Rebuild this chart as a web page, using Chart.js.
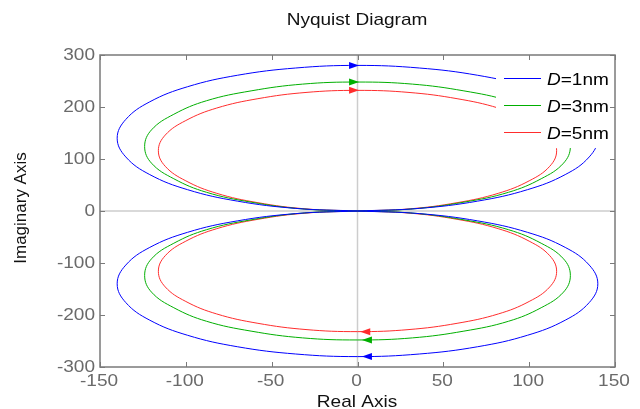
<!DOCTYPE html>
<html><head><meta charset="utf-8">
<script src="https://cdn.jsdelivr.net/npm/chart.js@4/dist/chart.umd.min.js"></script>
<style>html,body{margin:0;padding:0;background:#fff}canvas{display:block}</style>
</head><body>
<canvas id="c" width="640" height="409"></canvas>
<script>
// ---- data ----
const chartTitle = 'Nyquist Diagram';
const xTitle = 'Real Axis';
const yTitle = 'Imaginary Axis';
const seriesNames = ['1nm', '3nm', '5nm'];
const seriesColors = ['rgb(0,0,255)', 'rgb(0,175,0)', 'rgb(255,45,45)'];

const blueX = [0, 36, 70, 99, 121, 135, 140, 135, 121, 99, 70, 36, 0, -36, -70, -99, -121, -135, -140, -135, -121, -99, -70, -36, 0,
               36, 70, 99, 121, 135, 140, 135, 121, 99, 70, 36, 0, -36, -70, -99, -121, -135, -140, -135, -121, -99, -70, -36, 0];
const blueY = [0, 5, 19, 41, 70, 104, 140, 176, 210, 239, 261, 275, 280, 275, 261, 239, 210, 176, 140, 104, 70, 41, 19, 5, 0,
               -5, -19, -41, -70, -104, -140, -176, -210, -239, -261, -275, -280, -275, -261, -239, -210, -176, -140, -104, -70, -41, -19, -5, 0];
const greenX = [0, 32, 62, 88, 107, 120, 124, 120, 107, 88, 62, 32, 0, -32, -62, -88, -107, -120, -124, -120, -107, -88, -62, -32, 0,
                32, 62, 88, 107, 120, 124, 120, 107, 88, 62, 32, 0, -32, -62, -88, -107, -120, -124, -120, -107, -88, -62, -32, 0];
const greenY = [0, 4, 17, 36, 62, 92, 124, 156, 186, 212, 231, 244, 248, 244, 231, 212, 186, 156, 124, 92, 62, 36, 17, 4, 0,
                -4, -17, -36, -62, -92, -124, -156, -186, -212, -231, -244, -248, -244, -231, -212, -186, -156, -124, -92, -62, -36, -17, -4, 0];
const redX = [0, 30, 58, 82, 100, 112, 116, 112, 100, 82, 58, 30, 0, -30, -58, -82, -100, -112, -116, -112, -100, -82, -58, -30, 0,
              30, 58, 82, 100, 112, 116, 112, 100, 82, 58, 30, 0, -30, -58, -82, -100, -112, -116, -112, -100, -82, -58, -30, 0];
const redY = [0, 4, 16, 34, 58, 86, 116, 146, 174, 198, 216, 228, 232, 228, 216, 198, 174, 146, 116, 86, 58, 34, 16, 4, 0,
              -4, -16, -34, -58, -86, -116, -146, -174, -198, -216, -228, -232, -228, -216, -198, -174, -146, -116, -86, -58, -34, -16, -4, 0];

// direction arrows: upper ones point right, lower ones point left
const arrowTopX = [-2, -2, -2];
const arrowTopY = [280, 248, 232];
const arrowBottomX = [5.5, 5.5, 4.5];
const arrowBottomY = [-280, -248, -232];

const xTicks = [-150, -100, -50, 0, 50, 100, 150];
const yTicks = [300, 200, 100, 0, -100, -200, -300];

// ---- build ----
const FONT = '"Liberation Sans", Arial, Helvetica, sans-serif';
const SX = 1.12;
const curves = [[blueX, blueY], [greenX, greenY], [redX, redY]];
const datasets = curves.map((c, i) => ({
  label: seriesNames[i],
  data: c[0].map((x, k) => ({x: x, y: c[1][k]})),
  showLine: true, borderColor: seriesColors[i], borderWidth: 1,
  pointRadius: 0, tension: 0.4, fill: false
}));
seriesNames.forEach((n, i) => {
  datasets.push({
    label: 'arrows' + i, isArrow: true, arrowColor: seriesColors[i],
    data: [{x: arrowTopX[i], y: arrowTopY[i], dir: 1}, {x: arrowBottomX[i], y: arrowBottomY[i], dir: -1}],
    showLine: false, pointRadius: 0, borderWidth: 0
  });
});

function sText(ctx, t, x, y, align) {
  ctx.save(); ctx.translate(x, y); ctx.scale(SX, 1);
  ctx.textAlign = align; ctx.fillText(t, 0, 0); ctx.restore();
}

const deco = {
  id: 'deco',
  beforeDatasetsDraw(chart) {
    const {ctx, chartArea: a, scales: {x, y}} = chart;
    ctx.save();
    ctx.strokeStyle = '#cdcdcd'; ctx.lineWidth = 1.5;
    ctx.beginPath();
    const x0 = x.getPixelForValue(0), y0 = y.getPixelForValue(0);
    ctx.moveTo(x0, a.top); ctx.lineTo(x0, a.bottom);
    ctx.moveTo(a.left, y0); ctx.lineTo(a.right, y0);
    ctx.stroke();
    ctx.restore();
  },
  afterDatasetsDraw(chart) {
    const {ctx, chartArea: a, scales: {x, y}} = chart;
    ctx.save();
    // arrows
    chart.data.datasets.forEach((ds, di) => {
      if (!ds.isArrow) return;
      const meta = chart.getDatasetMeta(di);
      meta.data.forEach((pt, k) => {
        const d = ds.data[k].dir;
        ctx.fillStyle = ds.arrowColor;
        ctx.beginPath();
        ctx.moveTo(pt.x + d * 5, pt.y);
        ctx.lineTo(pt.x - d * 5, pt.y - 3.5);
        ctx.lineTo(pt.x - d * 5, pt.y + 3.5);
        ctx.closePath(); ctx.fill();
      });
    });
    // legend box
    ctx.fillStyle = '#ffffff';
    ctx.fillRect(496, 57, 118, 91);
    const rowsY = [78, 105, 132];
    seriesNames.forEach((n, i) => {
      ctx.strokeStyle = seriesColors[i]; ctx.lineWidth = 1;
      ctx.beginPath(); ctx.moveTo(504, rowsY[i] + 0.5); ctx.lineTo(541, rowsY[i] + 0.5); ctx.stroke();
      ctx.fillStyle = '#000';
      ctx.font = 'italic 17px ' + FONT;
      const wD = ctx.measureText('D').width * SX;
      sText(ctx, 'D', 547, rowsY[i] + 7, 'left');
      ctx.font = '17px ' + FONT;
      sText(ctx, '=' + n, 547 + wD, rowsY[i] + 7, 'left');
    });
    // frame
    ctx.strokeStyle = '#7a7a7a'; ctx.lineWidth = 1.5;
    ctx.strokeRect(a.left, a.top, a.right - a.left, a.bottom - a.top);
    // ticks inward
    ctx.lineWidth = 1;
    ctx.beginPath();
    xTicks.forEach(v => {
      const px = Math.round(x.getPixelForValue(v)) + 0.5;
      ctx.moveTo(px, a.bottom); ctx.lineTo(px, a.bottom - 5);
      ctx.moveTo(px, a.top); ctx.lineTo(px, a.top + 5);
    });
    yTicks.forEach(v => {
      const py = Math.round(y.getPixelForValue(v)) + 0.5;
      ctx.moveTo(a.left, py); ctx.lineTo(a.left + 5, py);
      ctx.moveTo(a.right, py); ctx.lineTo(a.right - 5, py);
    });
    ctx.stroke();
    // tick labels
    ctx.fillStyle = '#6a6a6a';
    ctx.font = '17px ' + FONT;
    ctx.textBaseline = 'alphabetic';
    xTicks.forEach(v => sText(ctx, String(v), x.getPixelForValue(v) - 1, 386, 'center'));
    yTicks.forEach(v => sText(ctx, String(v), 95, y.getPixelForValue(v) + 5, 'right'));
    // titles
    ctx.fillStyle = '#111';
    sText(ctx, chartTitle, 357, 25, 'center');
    sText(ctx, xTitle, 357, 407, 'center');
    ctx.save();
    ctx.translate(26, 208); ctx.rotate(-Math.PI / 2);
    ctx.textAlign = 'center'; ctx.fillText(yTitle, 0, 0);
    ctx.restore();
    ctx.restore();
  }
};

new Chart(document.getElementById('c'), {
  type: 'scatter',
  data: {datasets},
  options: {
    responsive: false, animation: false, devicePixelRatio: 1,
    layout: {padding: {left: 100, right: 25, top: 55, bottom: 42}},
    scales: {
      x: {type: 'linear', min: -150, max: 150, display: false},
      y: {type: 'linear', min: -300, max: 300, display: false}
    },
    plugins: {legend: {display: false}, title: {display: false}, tooltip: {enabled: false}}
  },
  plugins: [deco]
});
</script>
</body></html>
